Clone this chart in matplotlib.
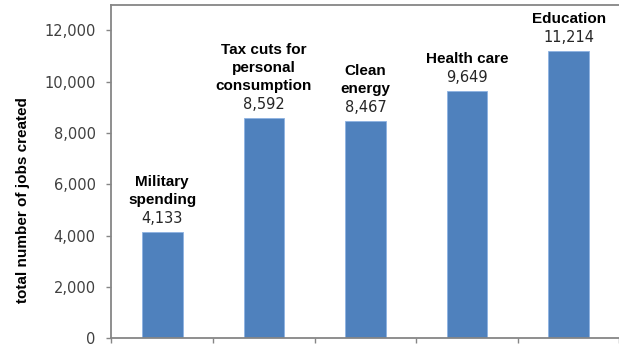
import numpy as np
from matplotlib import pyplot as plt

categories = ["Military\nspending", "Tax cuts for\npersonal\nconsumption",
              "Clean\nenergy", "Health care", "Education"]
jobs = [4133, 8592, 8467, 9649, 11214]
yticks = [0, 2000, 4000, 6000, 8000, 10000, 12000]

bar_color = "#4F81BD"
axis_color = "#868686"
text_color = "#262626"

fig = plt.figure(figsize=(6.19, 3.46), dpi=100)
ax = fig.add_axes([0.1801, 0.0217, 0.8205, 0.9647])

x = np.arange(len(jobs))
ax.bar(x, jobs, width=0.4, color=bar_color, edgecolor="#8DB3E2", linewidth=0.6)

ax.set_xlim(-0.5, len(jobs) - 0.5)
ax.set_ylim(0, 13000)

ax.set_yticks(yticks)
ax.set_yticklabels([f"{v:,}" for v in yticks], family="DejaVu Sans",
                   fontsize=10.5, color="#404040")
ax.set_xticks(np.arange(len(jobs) + 1) - 0.5)
ax.set_xticklabels([])

for side in ["left", "bottom", "top"]:
    ax.spines[side].set_color(axis_color)
    ax.spines[side].set_linewidth(1.3)
ax.spines["right"].set_visible(False)
ax.tick_params(axis="both", direction="out", length=3.5, width=1,
               color=axis_color, pad=8)

px = 72 / fig.dpi  # points per pixel
for xi, v, name in zip(x, jobs, categories):
    ax.annotate(f"{v:,}", (xi, v), xytext=(0, 13.5 * px),
                textcoords="offset points", ha="center", va="center",
                family="DejaVu Sans", fontsize=10.5, color=text_color)
    lines = name.split("\n")[::-1]
    for k, line in enumerate(lines):
        ax.annotate(line, (xi, v), xytext=(0, (32 + 18 * k) * px),
                    textcoords="offset points", ha="center", va="center",
                    family="Liberation Sans", fontweight="bold",
                    fontsize=11, color="black")

fig.text(0.037, 1 - 200 / 346, "total number of jobs created",
         rotation=90, ha="center", va="center", family="Liberation Sans",
         fontweight="bold", fontsize=11, color="black")

plt.savefig("out.png", dpi=100)
